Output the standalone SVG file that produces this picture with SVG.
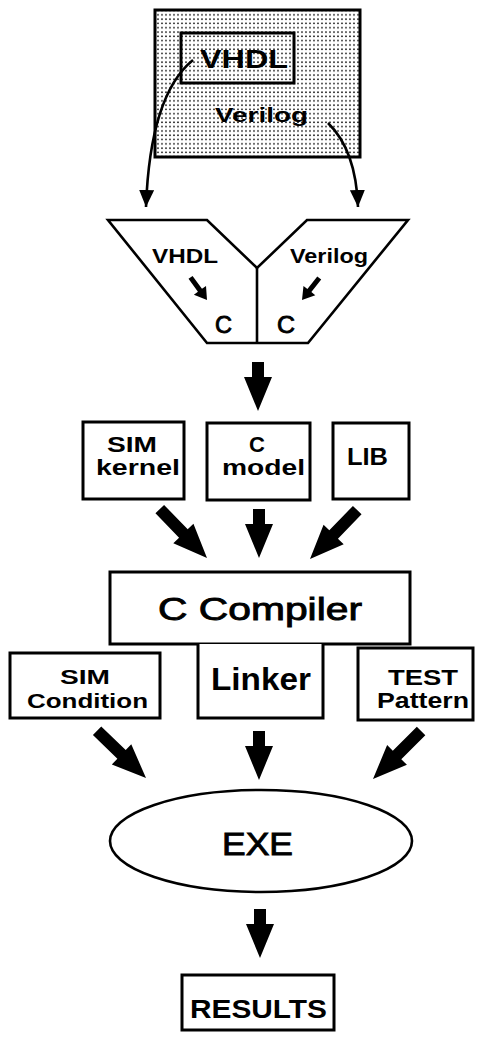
<svg xmlns="http://www.w3.org/2000/svg" width="483" height="1038" viewBox="0 0 483 1038">
<style>
.box{fill:#fff;stroke:#000;stroke-width:3}
.ln{fill:none;stroke:#000;stroke-width:2.6;stroke-linejoin:miter}
.t{font-family:"Liberation Sans",Arial,Helvetica,sans-serif;fill:#000;font-weight:bold}
.m{font-weight:normal;stroke:#000;stroke-width:0.9}
.ar{fill:#000}
.cv{fill:none;stroke:#000;stroke-width:2.6}
</style>
<defs>
<pattern id="dots" width="4" height="4.3" patternUnits="userSpaceOnUse">
<circle cx="2" cy="2" r="0.85" fill="#000"/>
</pattern>
<path id="thick" d="M-6,-49 H6 V-34 H14 L0,0 L-14,-34 H-6 Z"/>
<path id="thickD" d="M-6,-68 H6 V-34 H14 L0,0 L-14,-34 H-6 Z"/>
<path id="small" d="M-2.5,-28 H2.5 V-12 H7.5 L0,0 L-7.5,-12 H-2.5 Z"/>
<marker id="ah" markerWidth="18" markerHeight="16" refX="17" refY="7.5" orient="auto" markerUnits="userSpaceOnUse">
<path d="M0,0 L17,7.5 L0,15 Z" fill="#000"/>
</marker>
</defs>
<rect width="483" height="1038" fill="#fff"/>

<g id="source">
<rect x="155" y="10" width="205" height="147" fill="#fff" stroke="none"/>
<rect x="155" y="10" width="205" height="147" fill="url(#dots)" stroke="#000" stroke-width="3"/>
<rect x="181" y="33" width="113" height="50" fill="none" stroke="#000" stroke-width="3"/>
<text class="t" x="200" y="68" font-size="25" textLength="88" lengthAdjust="spacingAndGlyphs">VHDL</text>
<text class="t" x="215" y="122" font-size="21" textLength="93" lengthAdjust="spacingAndGlyphs">Verilog</text>
</g>

<g id="translator">
<path class="ln" d="M108,220 H207 L257,268 L307,220 H408 L308,343 H207 Z"/>
<line class="ln" x1="257" y1="268" x2="257" y2="343"/>
<text class="t" x="152" y="263" font-size="20" textLength="66" lengthAdjust="spacingAndGlyphs">VHDL</text>
<text class="t" x="290" y="263" font-size="20" textLength="78" lengthAdjust="spacingAndGlyphs">Verilog</text>
<text class="t m" x="215" y="333" font-size="24" textLength="17" lengthAdjust="spacingAndGlyphs">C</text>
<text class="t m" x="277" y="333" font-size="24" textLength="18" lengthAdjust="spacingAndGlyphs">C</text>
<use href="#small" class="ar" transform="translate(207,300) rotate(-36)"/>
<use href="#small" class="ar" transform="translate(302,300) rotate(38)"/>
</g>

<g id="simkernel">
<rect class="box" x="83" y="422" width="101" height="77"/>
<text class="t" x="107" y="452" font-size="22" textLength="50" lengthAdjust="spacingAndGlyphs">SIM</text>
<text class="t" x="96" y="475" font-size="22" textLength="84" lengthAdjust="spacingAndGlyphs">kernel</text>
</g>

<g id="cmodel">
<rect class="box" x="207" y="423" width="103" height="77"/>
<text class="t" x="257" y="452" font-size="22" text-anchor="middle">C</text>
<text class="t" x="222" y="475" font-size="22" textLength="83" lengthAdjust="spacingAndGlyphs">model</text>
</g>

<g id="lib">
<rect class="box" x="333" y="423" width="76" height="76"/>
<text class="t" x="347" y="465" font-size="23" textLength="41" lengthAdjust="spacingAndGlyphs">LIB</text>
</g>

<g id="compiler">
<rect class="box" x="110" y="572" width="300" height="72"/>
<text class="t m" x="158" y="620" font-size="32" textLength="204" lengthAdjust="spacingAndGlyphs">C Compiler</text>
</g>

<g id="linker">
<path class="box" d="M198,644 V718 H323 V644"/>
<text class="t" x="211" y="690" font-size="32" textLength="100" lengthAdjust="spacingAndGlyphs">Linker</text>
</g>

<g id="simcondition">
<rect class="box" x="10" y="653" width="150" height="65"/>
<text class="t" x="60" y="684" font-size="21" textLength="50" lengthAdjust="spacingAndGlyphs">SIM</text>
<text class="t" x="27" y="708" font-size="21" textLength="121" lengthAdjust="spacingAndGlyphs">Condition</text>
</g>

<g id="testpattern">
<rect class="box" x="358" y="648" width="115" height="72"/>
<text class="t" x="388" y="685" font-size="22" textLength="70" lengthAdjust="spacingAndGlyphs">TEST</text>
<text class="t" x="377" y="708" font-size="22" textLength="92" lengthAdjust="spacingAndGlyphs">Pattern</text>
</g>

<g id="exe">
<ellipse cx="261" cy="841" rx="151" ry="51" fill="#fff" stroke="#000" stroke-width="2.6"/>
<text class="t m" x="222" y="855" font-size="31" textLength="71" lengthAdjust="spacingAndGlyphs">EXE</text>
</g>

<g id="results">
<rect class="box" x="182" y="975" width="152" height="55"/>
<text class="t" x="190" y="1018" font-size="26" textLength="137" lengthAdjust="spacingAndGlyphs">RESULTS</text>
</g>

<g id="connectors">
<path class="cv" d="M193,60 Q150,95 146,207" marker-end="url(#ah)"/>
<path class="cv" d="M328,123 Q356,150 358,207" marker-end="url(#ah)"/>
<use href="#thick" class="ar" transform="translate(258,411)"/>
<use href="#thickD" class="ar" transform="translate(207,558) rotate(-44)"/>
<use href="#thick" class="ar" transform="translate(259,558)"/>
<use href="#thickD" class="ar" transform="translate(310,559) rotate(44)"/>
<use href="#thickD" class="ar" transform="translate(146,778) rotate(-46)"/>
<use href="#thick" class="ar" transform="translate(259,780)"/>
<use href="#thickD" class="ar" transform="translate(373,779) rotate(45)"/>
<use href="#thick" class="ar" transform="translate(260,958)"/>
</g>
</svg>
